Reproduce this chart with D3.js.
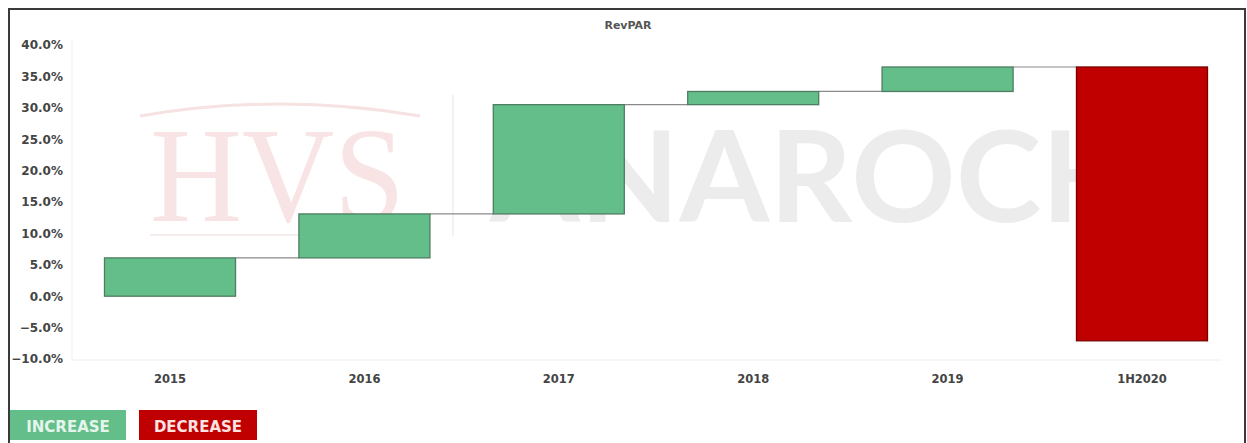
<!DOCTYPE html>
<html><head><meta charset="utf-8">
<script src="https://cdn.jsdelivr.net/npm/d3@7"></script>
<style>
html,body{margin:0;padding:0;background:#fff;}
svg{display:block;}
</style></head>
<body>
<svg id="c" width="1247" height="443"></svg>
<script>
const categories = ["2015","2016","2017","2018","2019","1H2020"];
const changes = [6.1, 7.0, 17.4, 2.1, 3.9, -43.6];
const yTicks = [-10, -5, 0, 5, 10, 15, 20, 25, 30, 35, 40];
const title = "RevPAR";
const legendLabels = ["INCREASE", "DECREASE"];

const GREEN = "#63be8a", RED = "#c00000";
const SANS = "'DejaVu Sans',sans-serif";
const svg = d3.select("#c");

// outer frame
svg.append("rect").attr("x",9).attr("y",9).attr("width",1236).attr("height",450)
  .attr("fill","none").attr("stroke","#3a3a3a").attr("stroke-width",2);

const y = d3.scaleLinear().domain([-10,40]).range([359,45]);
const x = d3.scaleBand().domain(categories).range([73,1239])
  .paddingInner(0.326).paddingOuter(0.162);

// watermark
const wm = svg.append("g");
wm.append("path").attr("d","M140,116 Q280,92 420,116").attr("fill","none")
  .attr("stroke","#f7e2e2").attr("stroke-width",3);
wm.append("text").attr("x",150).attr("y",221).style("font-family","'Liberation Serif','DejaVu Serif',serif")
  .style("font-size","136px").attr("fill","#f8e4e4").attr("textLength",255).attr("lengthAdjust","spacingAndGlyphs").text("HVS");
wm.append("line").attr("x1",150).attr("x2",300).attr("y1",235).attr("y2",235).attr("stroke","#f5ecec").attr("stroke-width",2);
wm.append("line").attr("x1",453).attr("x2",453).attr("y1",95).attr("y2",236).attr("stroke","#eeeeee").attr("stroke-width",1.5);
wm.append("text").attr("x",490).attr("y",222).style("font-family","Lato,sans-serif").style("font-weight","bold")
  .style("font-size","127px").attr("fill","#ececec").attr("textLength",640).attr("lengthAdjust","spacingAndGlyphs").text("ANAROCK");

// faint axis lines
svg.append("line").attr("x1",72).attr("x2",72).attr("y1",40).attr("y2",360).attr("stroke","#f0f0f0");
svg.append("line").attr("x1",72).attr("x2",1222).attr("y1",360).attr("y2",360).attr("stroke","#eeeeee");

// y axis
const yAxis = d3.axisLeft(y).tickValues(yTicks).tickSize(0).tickPadding(0)
  .tickFormat(d => d3.format(".1f")(d) + "%");
const gy = svg.append("g").attr("transform","translate(63,0)").call(yAxis);
gy.select(".domain").remove();
gy.selectAll("text").style("font-size","12px").style("font-weight","bold").attr("fill","#444")
  .style("font-family",SANS);

// x axis
const xAxis = d3.axisBottom(x).tickSize(0).tickPadding(0);
const gx = svg.append("g").attr("transform","translate(0,375)").call(xAxis);
gx.select(".domain").remove();
gx.selectAll("text").style("font-size","11.5px").style("font-weight","bold").attr("fill","#444")
  .style("font-family",SANS);

// waterfall data
let cum = 0;
const bars = categories.map((c,i) => {
  const start = cum; cum += changes[i];
  return {cat:c, start, end:cum, delta:changes[i]};
});

// connectors
svg.append("g").selectAll("line").data(bars.slice(0,-1)).join("line")
  .attr("x1", d => x(d.cat) + x.bandwidth())
  .attr("x2", (d,i) => x(bars[i+1].cat))
  .attr("y1", d => y(d.end)).attr("y2", d => y(d.end))
  .attr("stroke","#8a8a8a").attr("stroke-width",1.2);

// bars
svg.append("g").selectAll("rect").data(bars).join("rect")
  .attr("x", d => x(d.cat)).attr("width", x.bandwidth())
  .attr("y", d => y(Math.max(d.start,d.end)))
  .attr("height", d => Math.abs(y(d.start) - y(d.end)))
  .attr("fill", d => d.delta >= 0 ? GREEN : RED)
  .attr("stroke", d => d.delta >= 0 ? "#4f7d61" : "#7a0000").attr("stroke-width",1.3);

// title
svg.append("text").attr("x",628).attr("y",29).attr("text-anchor","middle")
  .style("font-family",SANS).style("font-size","11px").style("font-weight","bold").attr("fill","#555").text(title);

// legend
const leg = [{label:legendLabels[0], fill:GREEN, tc:"#e6f5ec", x:10, w:116},
             {label:legendLabels[1], fill:RED, tc:"#ffe3e3", x:139, w:118}];
const lg = svg.append("g").selectAll("g").data(leg).join("g");
lg.append("rect").attr("x",d=>d.x).attr("y",410).attr("width",d=>d.w).attr("height",30).attr("fill",d=>d.fill);
lg.append("text").attr("x",d=>d.x+d.w/2).attr("y",432).attr("text-anchor","middle")
  .style("font-family",SANS).style("font-size","15px").style("font-weight","bold").attr("fill",d=>d.tc).text(d=>d.label);
</script>
</body></html>
